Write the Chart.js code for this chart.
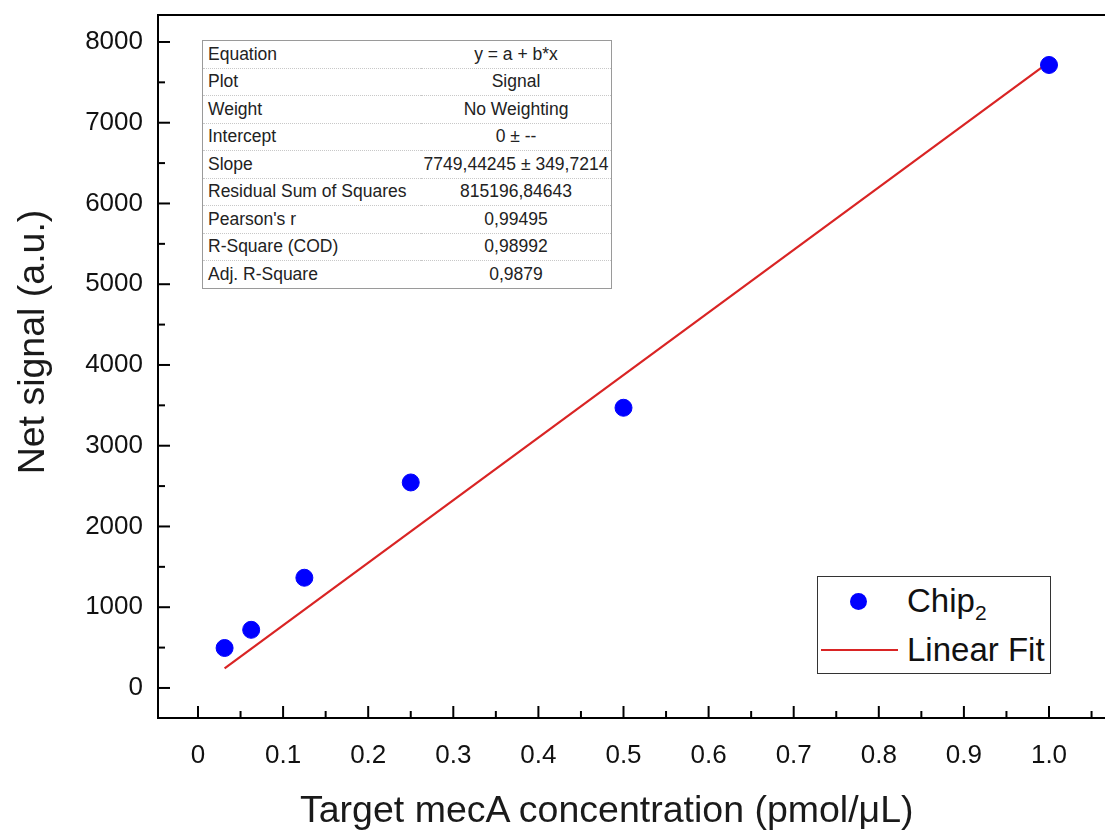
<!DOCTYPE html>
<html>
<head>
<meta charset="utf-8">
<script src="https://cdn.jsdelivr.net/npm/chart.js@4"></script>
<style>
  body { margin: 0; background: #fff; font-family: 'Liberation Sans', Arial, sans-serif; }
  #wrap { position: relative; width: 1105px; height: 834px; overflow: hidden; }
  #stats { position: absolute; left: 202px; top: 40px; width: 410px; border-collapse: collapse;
           border: 1px solid #9a9a9a; background: #fff; font-size: 17.5px; color: #222; table-layout: fixed; }
  #stats td { height: 26.5px; padding: 0 0 0 5px; border-bottom: 1px dotted #c8c8c8; white-space: nowrap; overflow: visible; }
  #stats td.k { width: 213px; }
  #stats td.v { text-align: center; padding: 0; }
  #legend { position: absolute; left: 817px; top: 576px; width: 232px; height: 96px;
            border: 1px solid #333; background: #fff; font-size: 33px; color: #111; }
  #legend .dot { position: absolute; left: 32px; top: 16px; width: 17px; height: 17px; border-radius: 50%; background: #0000ff; }
  #legend .line { position: absolute; left: 3px; top: 72px; width: 77px; height: 2px; background: #d92424; }
  #legend .t1 { position: absolute; left: 89px; top: 5px; line-height: 38px; }
  #legend .t2 { position: absolute; left: 89px; top: 54px; line-height: 38px; }
  #legend sub { font-size: 21px; }
  .axis-title { position: absolute; font-size: 37.5px; line-height: 44px; color: #1a1a1a; text-align: center; white-space: nowrap; }
  #xtitle { left: 300px; top: 787px; width: 600px; }
  #ytitle { left: -119px; top: 320px; width: 300px; height: 44px; transform: rotate(-90deg); }
</style>
</head>
<body>
<div id="wrap">
  <canvas id="chart" width="1105" height="834"></canvas>
  <table id="stats"></table>
  <div id="legend">
    <div class="dot"></div><div class="t1">Chip<sub>2</sub></div>
    <div class="line"></div><div class="t2">Linear Fit</div>
  </div>
  <div class="axis-title" id="xtitle">Target mecA concentration (pmol/μL)</div>
  <div class="axis-title" id="ytitle">Net signal (a.u.)</div>
</div>
<script>
const concentrations = [0.03125, 0.0625, 0.125, 0.25, 0.5, 1.0];
const netSignal = [495, 720, 1365, 2545, 3470, 7715];
const fitX = [0.03125, 1.0];
const fitY = [242, 7749];
const xTicks = [0, 0.1, 0.2, 0.3, 0.4, 0.5, 0.6, 0.7, 0.8, 0.9, 1.0];
const yTicks = [0, 1000, 2000, 3000, 4000, 5000, 6000, 7000, 8000];
const statLabels = ['Equation', 'Plot', 'Weight', 'Intercept', 'Slope', 'Residual Sum of Squares', "Pearson's r", 'R-Square (COD)', 'Adj. R-Square'];
const statValues = ['y = a + b*x', 'Signal', 'No Weighting', '0 \u00b1 --', '7749,44245 \u00b1 349,7214', '815196,84643', '0,99495', '0,98992', '0,9879'];

const stats = document.getElementById('stats');
statLabels.forEach((lab, i) => {
    const tr = document.createElement('tr');
    tr.innerHTML = '<td class="k">' + lab + '</td><td class="v">' + statValues[i] + '</td>';
    stats.appendChild(tr);
});

const font = 'Liberation Sans, Arial, sans-serif';

// inward major/minor tick marks and the top frame line, like the original plot
const innerTicks = {
    id: 'innerTicks',
    afterDraw(chart) {
        const ctx = chart.ctx;
        const xs = chart.scales.x, ys = chart.scales.y;
        const area = chart.chartArea;
        ctx.save();
        ctx.strokeStyle = '#000';
        ctx.lineWidth = 2;
        ctx.beginPath(); ctx.moveTo(area.left - 1, area.top); ctx.lineTo(area.right, area.top); ctx.stroke();
        xTicks.forEach((v, i) => {
            const px = xs.getPixelForValue(v);
            ctx.beginPath(); ctx.moveTo(px, area.bottom); ctx.lineTo(px, area.bottom - 12); ctx.stroke();
            const next = i < xTicks.length - 1 ? xTicks[i + 1] : v + 0.1;
            const mx = xs.getPixelForValue((v + next) / 2);
            if (mx < area.right) {
                ctx.beginPath(); ctx.moveTo(mx, area.bottom); ctx.lineTo(mx, area.bottom - 7); ctx.stroke();
            }
        });
        yTicks.forEach((v, i) => {
            const py = ys.getPixelForValue(v);
            ctx.beginPath(); ctx.moveTo(area.left, py); ctx.lineTo(area.left + 12, py); ctx.stroke();
            if (i < yTicks.length - 1) {
                const my = ys.getPixelForValue((v + yTicks[i + 1]) / 2);
                ctx.beginPath(); ctx.moveTo(area.left, my); ctx.lineTo(area.left + 7, my); ctx.stroke();
            }
        });
        ctx.restore();
    }
};

new Chart(document.getElementById('chart'), {
    type: 'scatter',
    data: {
        datasets: [
            {
                label: 'Chip2',
                data: concentrations.map((x, i) => ({ x: x, y: netSignal[i] })),
                backgroundColor: '#0000ff',
                borderColor: '#0000ff',
                pointRadius: 8.5,
                pointHoverRadius: 8.5,
                order: 1
            },
            {
                label: 'Linear Fit',
                data: fitX.map((x, i) => ({ x: x, y: fitY[i] })),
                showLine: true,
                borderColor: '#d92424',
                borderWidth: 2.2,
                pointRadius: 0,
                order: 2
            }
        ]
    },
    options: {
        responsive: false,
        animation: false,
        layout: { autoPadding: false, padding: { top: 15, right: 0, left: 0, bottom: 0 } },
        plugins: { legend: { display: false }, tooltip: { enabled: false } },
        scales: {
            x: {
                type: 'linear',
                min: -0.047,
                max: 1.0658,
                afterBuildTicks: (s) => { s.ticks = xTicks.map(v => ({ value: v })); },
                afterFit: (s) => { s.height = 116; s.paddingLeft = 0; s.paddingRight = 0; },
                grid: { display: false, drawTicks: false },
                border: { display: true, color: '#000', width: 2 },
                ticks: {
                    color: '#111',
                    font: { family: font, size: 26 },
                    padding: 22,
                    maxRotation: 0,
                    callback: (v) => v === 0 ? '0' : v.toFixed(1)
                },
                title: { display: false }
            },
            y: {
                type: 'linear',
                min: -372,
                max: 8334,
                afterBuildTicks: (s) => { s.ticks = yTicks.map(v => ({ value: v })); },
                afterFit: (s) => { s.width = 158; s.paddingTop = 0; s.paddingBottom = 0; },
                grid: { display: false, drawTicks: false },
                border: { display: true, color: '#000', width: 2 },
                ticks: {
                    color: '#111',
                    font: { family: font, size: 26 },
                    padding: 15,
                    callback: (v) => String(v)
                },
                title: { display: false }
            }
        }
    },
    plugins: [innerTicks]
});
</script>
</body>
</html>
